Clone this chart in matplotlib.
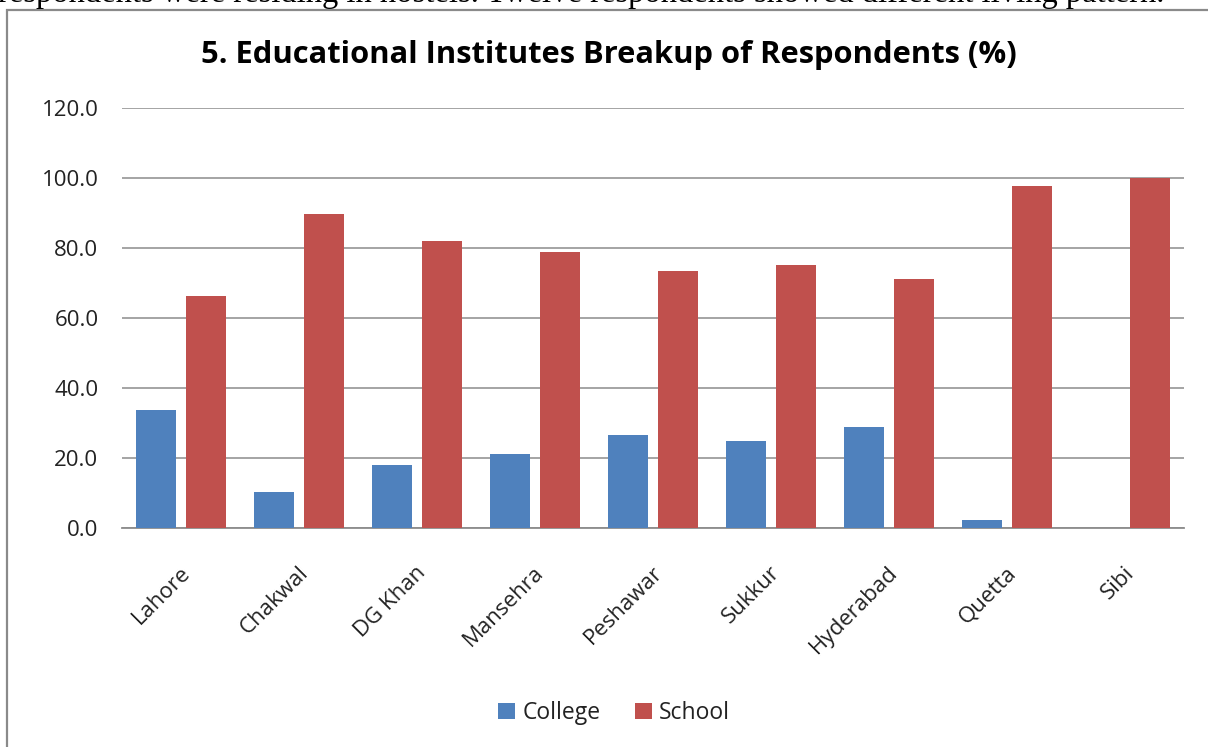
import matplotlib
matplotlib.use("Agg")
import matplotlib.pyplot as plt
from matplotlib.patches import Rectangle
from matplotlib.transforms import ScaledTranslation
import numpy as np

cities = ["Lahore", "Chakwal", "DG Khan", "Mansehra", "Peshawar",
          "Sukkur", "Hyderabad", "Quetta", "Sibi"]
college = [33.6, 10.3, 18.0, 21.2, 26.7, 24.9, 28.9, 2.2, 0.0]
school = [66.4, 89.7, 82.0, 78.8, 73.3, 75.1, 71.1, 97.8, 100.0]
yticks = [0, 20, 40, 60, 80, 100, 120]

BLUE = "#4F81BD"
RED = "#C0504D"
GRID = "#8C8C8C"
FONT = "Open Sans"

W, H = 1208, 747
fig = plt.figure(figsize=(W / 100, H / 100), dpi=100)

# surrounding chart frame
fig.patches.append(Rectangle((7 / W, -0.05), 1.2, 1 - 10 / H + 0.05,
                             transform=fig.transFigure, fill=False,
                             edgecolor="#8A8A8A", linewidth=1.6))

# body text line running above the chart
fig.text(-2 / W, 1 - 2 / H,
         "respondents were residing in hostels. Twelve respondents showed different living pattern.",
         family="Liberation Serif", fontsize=23.5, va="baseline", ha="left")

ax = fig.add_axes([122 / W, 1 - 528 / H, (1184 - 122) / W, (528 - 108) / H])
x = np.arange(len(cities))
bw = 0.335
ax.bar(x - 0.21, college, bw, color=BLUE, label="College", zorder=3)
ax.bar(x + 0.21, school, bw, color=RED, label="School", zorder=3)

ax.set_xlim(-0.5, len(cities) - 0.5)
ax.set_ylim(0, 120)
ax.set_yticks(yticks)
ax.set_yticklabels([f"{v:.1f}" for v in yticks], family=FONT, fontsize=16,
                   color="#222222")
ax.yaxis.grid(True, color=GRID, linewidth=1.1, zorder=0)
ax.tick_params(axis="y", length=0, pad=17)
ax.tick_params(axis="x", length=0, pad=30)
ax.set_xticks(x)
ax.set_xticklabels(cities, rotation=45, ha="right", va="center",
                   rotation_mode="anchor", family=FONT, fontsize=16,
                   color="#222222")
shift = ScaledTranslation(6 / 100, 0, fig.dpi_scale_trans)
for lbl in ax.get_xticklabels():
    lbl.set_transform(lbl.get_transform() + shift)
for s in ["top", "right", "left"]:
    ax.spines[s].set_visible(False)
ax.spines["bottom"].set_color(GRID)
ax.spines["bottom"].set_linewidth(1.3)

fig.text(609 / W, 1 - 55 / H, "5. Educational Institutes Breakup of Respondents (%)",
         family=FONT, fontsize=22.2, fontweight="bold", ha="center", va="center")

leg = fig.legend(loc="center", bbox_to_anchor=(614 / W, 1 - 713 / H), ncol=2,
                 frameon=False, prop={"family": FONT, "size": 16.5},
                 handlelength=0.75, handleheight=0.75, handletextpad=0.3,
                 columnspacing=1.5)
for t in leg.get_texts():
    t.set_color("#222222")

fig.savefig("out.png", dpi=100)
